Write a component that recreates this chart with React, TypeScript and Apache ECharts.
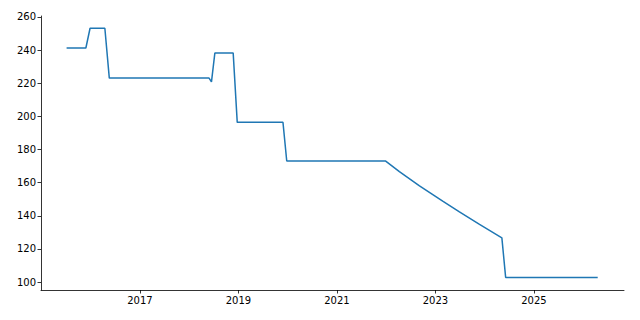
import React, { useEffect, useRef } from "react";
import * as echarts from "echarts";

const dates: string[] = [
  "2015-07-06", "2015-11-26", "2015-12-27", "2016-04-15", "2016-05-18",
  "2018-05-28", "2018-06-15", "2018-07-10", "2018-11-23", "2018-12-23",
  "2019-11-27", "2019-12-25", "2021-12-26", "2022-04-09", "2022-09-05",
  "2023-02-24", "2023-06-28", "2023-11-24", "2024-05-08", "2024-06-05",
  "2026-04-19",
];
const values: number[] = [
  241.3, 241.3, 253.2, 253.2, 223.1,
  223.1, 220.8, 238.2, 238.2, 196.4,
  196.4, 173.1, 173.1, 166.7, 158.1,
  148.8, 142.3, 134.8, 126.7, 102.8,
  102.8,
];
const xTickYears: number[] = [2017, 2019, 2021, 2023, 2025];
const yTicks: number[] = [100, 120, 140, 160, 180, 200, 220, 240, 260];

const toYear = (d: string) => {
  const [y, m, day] = d.split("-").map(Number);
  const start = Date.UTC(y, 0, 1);
  const end = Date.UTC(y + 1, 0, 1);
  return y + (Date.UTC(y, m - 1, day) - start) / (end - start);
};

export default function App() {
  const ref = useRef<HTMLDivElement>(null);
  useEffect(() => {
    if (!ref.current) return;
    const chart = echarts.init(ref.current, undefined, { renderer: "svg" });
    const font = "DejaVu Sans";
    chart.setOption({
      animation: false,
      grid: { left: 41, right: 16, top: 16, bottom: 30 },
      xAxis: {
        type: "value",
        min: 2014.99,
        max: 2026.83,
        splitLine: { show: false },
        axisLine: { show: true, lineStyle: { color: "#000", width: 0.8 } },
        axisTick: {
          show: true,
          length: 3.5,
          lineStyle: { color: "#000", width: 0.8 },
          customValues: xTickYears,
        },
        axisLabel: {
          customValues: xTickYears,
          formatter: (v: number) => String(Math.round(v)),
          color: "#000",
          fontFamily: font,
          fontSize: 10,
          margin: 5,
        },
      },
      yAxis: {
        type: "value",
        min: 95.2,
        max: 260.6,
        splitLine: { show: false },
        axisLine: { show: true, lineStyle: { color: "#000", width: 0.8 } },
        axisTick: {
          show: true,
          length: 3.5,
          lineStyle: { color: "#000", width: 0.8 },
          customValues: yTicks,
        },
        axisLabel: {
          customValues: yTicks,
          color: "#000",
          fontFamily: font,
          fontSize: 10,
          margin: 5,
        },
      },
      series: [
        {
          type: "line",
          data: dates.map((d, i) => [toYear(d), values[i]]),
          showSymbol: false,
          lineStyle: { color: "#1f77b4", width: 1.5 },
          itemStyle: { color: "#1f77b4" },
        },
      ],
    });
    return () => chart.dispose();
  }, []);
  return <div ref={ref} style={{ width: 640, height: 320, position: "absolute", left: 0, top: 0 }} />;
}
